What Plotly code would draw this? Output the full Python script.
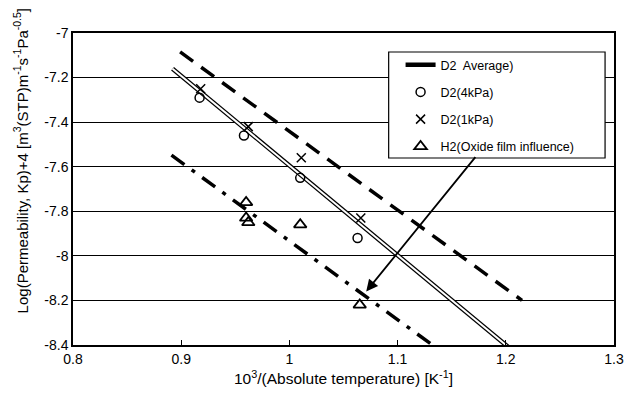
import plotly.graph_objects as go

# Data
avg_x = [0.892, 1.205]
avg_y = [-7.16, -8.42]

upper_x = [0.899, 1.215]
upper_y = [-7.085, -8.20]

lower_x = [0.891, 1.135]
lower_y = [-7.548, -8.41]

d2_4kpa_x = [0.917, 0.958, 1.010, 1.063]
d2_4kpa_y = [-7.29, -7.46, -7.65, -7.92]

d2_1kpa_x = [0.918, 0.962, 1.011, 1.066]
d2_1kpa_y = [-7.25, -7.42, -7.56, -7.83]

h2_x = [0.960, 0.960, 0.962, 1.010, 1.065]
h2_y = [-7.76, -7.83, -7.85, -7.86, -8.22]

arrow_from = (1.173, -7.55)
arrow_to = (1.071, -8.16)

x_ticks = [0.8, 0.9, 1.0, 1.1, 1.2, 1.3]
x_ticktext = ["0.8", "0.9", "1", "1.1", "1.2", "1.3"]
y_ticks = [-7, -7.2, -7.4, -7.6, -7.8, -8, -8.2, -8.4]
y_ticktext = ["-7", "-7.2", "-7.4", "-7.6", "-7.8", "-8", "-8.2", "-8.4"]

fig = go.Figure()

# upper dashed bound
fig.add_trace(go.Scatter(x=upper_x, y=upper_y, mode="lines", showlegend=False,
                         line=dict(color="black", width=3.5, dash="16px,10px"),
                         hoverinfo="skip"))
# lower dash-dot bound
fig.add_trace(go.Scatter(x=lower_x, y=lower_y, mode="lines", showlegend=False,
                         line=dict(color="black", width=3.5, dash="16px,9px,4px,9px"),
                         hoverinfo="skip"))
# average double line
fig.add_trace(go.Scatter(x=avg_x, y=avg_y, mode="lines", name="D2  Average)",
                         legendgroup="a",
                         line=dict(color="black", width=4.5)))
fig.add_trace(go.Scatter(x=avg_x, y=avg_y, mode="lines", showlegend=False,
                         legendgroup="a",
                         line=dict(color="white", width=2), hoverinfo="skip"))

fig.add_trace(go.Scatter(x=d2_4kpa_x, y=d2_4kpa_y, mode="markers", name="D2(4kPa)",
                         legendgroup="b",
                         marker=dict(symbol="circle-open", size=9, color="black",
                                     line=dict(width=1.5, color="black"))))
fig.add_trace(go.Scatter(x=d2_1kpa_x, y=d2_1kpa_y, mode="markers", name="D2(1kPa)",
                         legendgroup="c",
                         marker=dict(symbol="x-thin-open", size=9, color="black",
                                     line=dict(width=1.5, color="black"))))
fig.add_trace(go.Scatter(x=h2_x, y=h2_y, mode="markers",
                         name="H2(Oxide film influence)",
                         legendgroup="d",
                         marker=dict(symbol="triangle-up-open", size=11, color="black",
                                     line=dict(width=1.8, color="black"))))

# legend frame (white box hiding the gridlines behind the legend)
fig.add_shape(type="rect", xref="paper", yref="paper",
              x0=(391 - 73) / 545, x1=(609 - 73) / 545,
              y0=(345 - 158) / 312, y1=(345 - 52) / 312,
              fillcolor="white", line=dict(color="black", width=1.2), layer="above")

fig.add_annotation(x=arrow_to[0], y=arrow_to[1], ax=arrow_from[0], ay=arrow_from[1],
                   xref="x", yref="y", axref="x", ayref="y", text="",
                   showarrow=True, arrowhead=2, arrowsize=1.3, arrowwidth=1.8,
                   arrowcolor="black")

# y-axis title (placed off-centre as in the reference)
fig.add_annotation(text="Log(Permeability, Kp)+4 [m<sup>3</sup>(STP)m<sup>-1</sup>s<sup>-1</sup>Pa<sup>-0.5</sup>]",
                   xref="paper", yref="paper", x=(20 - 73) / 545, y=(345 - 161) / 312,
                   textangle=-90, showarrow=False, xanchor="center", yanchor="middle",
                   font=dict(size=15))

font = dict(family="Liberation Sans, Arial, sans-serif", color="black")

fig.update_layout(
    width=636, height=401,
    margin=dict(l=73, r=18, t=33, b=56),
    paper_bgcolor="white", plot_bgcolor="white",
    font=dict(size=14, **font),
    legend=dict(x=(403 - 73) / 545, y=(345 - 50) / 312, xanchor="left", yanchor="top",
                bgcolor="rgba(0,0,0,0)", borderwidth=0,
                font=dict(size=12.5, **font), tracegroupgap=8,
                itemwidth=30, traceorder="grouped"),
    xaxis=dict(range=[0.8, 1.3], tickvals=x_ticks, ticktext=x_ticktext,
               showgrid=False, zeroline=False, showline=True, linecolor="black",
               linewidth=1.5, mirror=True, ticks="inside", ticklen=5,
               tickcolor="black", tickfont=dict(size=14),
               title=dict(text="10<sup>3</sup>/(Absolute temperature) [K<sup>-1</sup>]",
                          font=dict(size=15.5), standoff=8)),
    yaxis=dict(range=[-8.4, -7.0], tickvals=y_ticks, ticktext=y_ticktext,
               showgrid=True, gridcolor="black", gridwidth=1, zeroline=False,
               showline=True, linecolor="black", linewidth=1.5, mirror=True,
               ticks="", tickfont=dict(size=14)),
)

fig.write_html("out.html", config={"displayModeBar": False},
               post_script="document.body.style.margin='0';")
